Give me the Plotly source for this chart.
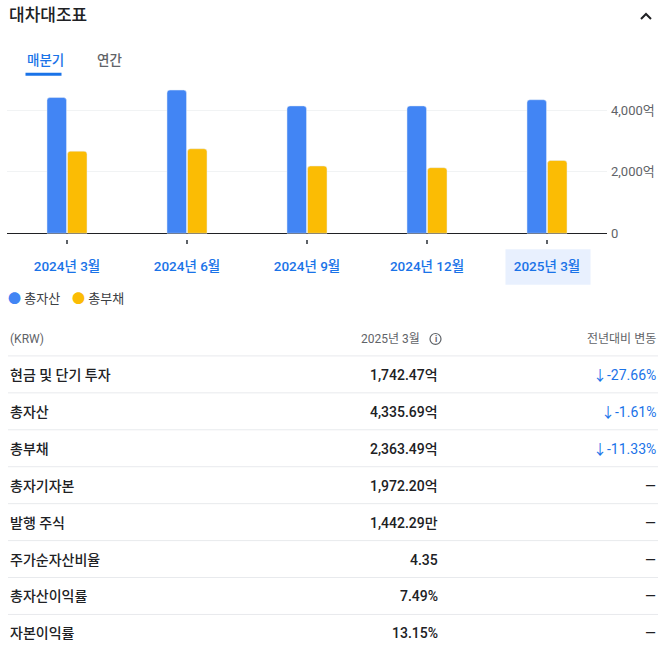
import plotly.graph_objects as go

W, H = 671, 655
FONT = "Roboto, 'Noto Sans CJK KR', sans-serif"

# 차트 데이터 (단위: 억 KRW)
quarters = ['2024년 3월', '2024년 6월', '2024년 9월', '2024년 12월', '2025년 3월']
total_assets = [4406.63, 4650, 4135, 4135, 4335.69]
total_liabilities = [2665.49, 2745, 2185, 2130, 2363.49]
ytick_vals = [0, 2000, 4000]
ytick_text = ['0', '2,000억', '4,000억']

# 표 데이터
row_labels = ['현금 및 단기 투자', '총자산', '총부채', '총자기자본',
              '발행 주식', '주가순자산비율', '총자산이익률', '자본이익률']
row_values = ['1,742.47억', '4,335.69억', '2,363.49억', '1,972.20억',
              '1,442.29만', '4.35', '7.49%', '13.15%']
row_changes = ['-27.66%', '-1.61%', '-11.33%', None, None, None, None, None]


def px(x):
    return x / W


def py(y):
    return 1 - y / H


# 픽셀 -> 값 변환 (0 at y=234, 2000 per 61.8px)
per_px = 2000 / 61.8
plot_top, zero_y, plot_bottom = 85, 234, 239.5

fig = go.Figure()
fig.add_trace(go.Bar(x=quarters, y=total_assets, name='총자산',
                     marker_color='#4285f4', showlegend=False))
fig.add_trace(go.Bar(x=quarters, y=total_liabilities, name='총부채',
                     marker_color='#fbbc04', showlegend=False))

fig.update_layout(
    width=W, height=H,
    margin=dict(l=0, r=0, t=0, b=0),
    paper_bgcolor='white', plot_bgcolor='white',
    font=dict(family=FONT, color='#202124'),
    barmode='group', bargap=0.658, bargroupgap=0.05,
    barcornerradius=3,
    xaxis=dict(
        domain=[px(7), px(607)],
        tickvals=quarters, ticktext=quarters,
        ticks='outside', ticklen=4, tickwidth=1.5, tickcolor='#5f6368',
        showline=False, showgrid=False,
        tickfont=dict(size=13.5, color='#1a73e8', weight=500),
        ticklabelstandoff=11,
        fixedrange=True,
    ),
    yaxis=dict(
        domain=[py(plot_bottom), py(plot_top)],
        range=[-(plot_bottom - zero_y) * per_px, (zero_y - plot_top) * per_px],
        side='right',
        tickvals=ytick_vals, ticktext=ytick_text,
        tickfont=dict(size=13, color='#5f6368'),
        showgrid=True, gridcolor='#f1f3f4', gridwidth=1,
        zeroline=True, zerolinecolor='#202124', zerolinewidth=1.3,
        ticks='', ticklabelstandoff=3,
        fixedrange=True,
    ),
)

shapes = []
annotations = []

# 제목 / 탭
annotations.append(dict(text='대차대조표', x=px(7), y=py(15), xanchor='left', yanchor='middle',
                        font=dict(size=17, color='#202124', weight=500)))
shapes.append(dict(type='path', xref='paper', yref='paper',
                   path=f'M {px(641)} {py(19)} L {px(646)} {py(14)} L {px(651)} {py(19)}',
                   line=dict(color='#202124', width=2)))
annotations.append(dict(text='매분기', x=px(25), y=py(60), xanchor='left', yanchor='middle',
                        font=dict(size=13.5, color='#1a73e8', weight=500)))
annotations.append(dict(text='연간', x=px(95), y=py(60), xanchor='left', yanchor='middle',
                        font=dict(size=13.5, color='#5f6368', weight=500)))
shapes.append(dict(type='rect', xref='paper', yref='paper',
                   x0=px(25.5), x1=px(61.5), y0=py(76), y1=py(73),
                   fillcolor='#1a73e8', line=dict(width=0)))

# 선택된 분기 강조 박스
shapes.append(dict(type='rect', xref='paper', yref='paper', layer='below',
                   x0=px(505.5), x1=px(590.5), y0=py(285.5), y1=py(250),
                   fillcolor='#e8f0fe', line=dict(width=0)))

# 범례
annotations.append(dict(text="<span style='color:#4285f4'>●</span> 총자산", x=px(6), y=py(299),
                        xanchor='left', yanchor='middle', font=dict(size=13, color='#3c4043')))
annotations.append(dict(text="<span style='color:#fbbc04'>●</span> 총부채", x=px(70), y=py(299),
                        xanchor='left', yanchor='middle', font=dict(size=13, color='#3c4043')))

# 표 헤더
header_y = 340
annotations.append(dict(text='(KRW)', x=px(8), y=py(header_y), xanchor='left', yanchor='middle',
                        font=dict(size=12, color='#5f6368')))
annotations.append(dict(text='2025년 3월', x=px(422), y=py(header_y), xanchor='right', yanchor='middle',
                        font=dict(size=12, color='#5f6368')))
shapes.append(dict(type='circle', xref='paper', yref='paper',
                   x0=px(430), x1=px(441), y0=py(345.5), y1=py(334.5),
                   line=dict(color='#5f6368', width=1.2)))
annotations.append(dict(text='i', x=px(435.5), y=py(340.5), xanchor='center', yanchor='middle',
                        font=dict(size=8.5, color='#5f6368', weight=700)))
annotations.append(dict(text='전년대비 변동', x=px(658), y=py(header_y), xanchor='right', yanchor='middle',
                        font=dict(size=12, color='#5f6368')))

# 표 본문
row_h = 37.05
first_line = 357
for i, label in enumerate(row_labels):
    line_y = first_line + i * row_h
    shapes.append(dict(type='line', xref='paper', yref='paper',
                       x0=px(8), x1=px(658), y0=py(line_y), y1=py(line_y),
                       line=dict(color='#e8eaed', width=1)))
    ty = line_y + 19
    annotations.append(dict(text=label, x=px(8), y=py(ty), xanchor='left', yanchor='middle',
                            font=dict(size=14, color='#202124', weight=500)))
    annotations.append(dict(text=row_values[i], x=px(440), y=py(ty), xanchor='right', yanchor='middle',
                            font=dict(size=14, color='#202124', weight=500)))
    if row_changes[i] is None:
        annotations.append(dict(text='—', x=px(658), y=py(ty), xanchor='right', yanchor='middle',
                                font=dict(size=14, color='#202124')))
    else:
        annotations.append(dict(text='↓' + row_changes[i], x=px(658), y=py(ty), xanchor='right',
                                yanchor='middle', font=dict(size=14, color='#1a73e8')))

for a in annotations:
    a.update(xref='paper', yref='paper', showarrow=False)

fig.update_layout(shapes=shapes, annotations=annotations)

# 페이지 기본 여백 제거
fig.write_html("out.html", config=dict(displayModeBar=False),
               post_script="document.body.style.margin = '0';")
